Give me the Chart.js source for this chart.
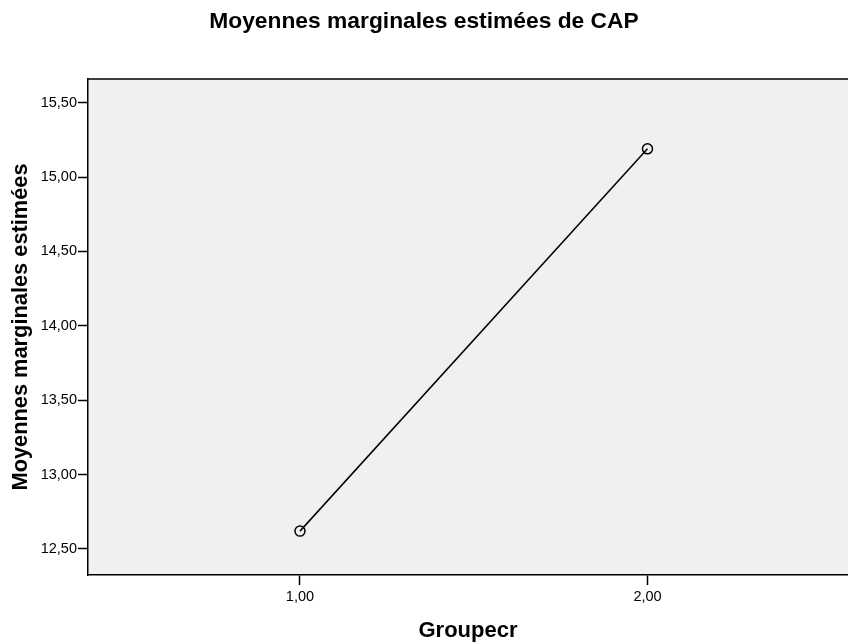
<!DOCTYPE html>
<html>
<head>
<meta charset="utf-8">
<script src="https://cdn.jsdelivr.net/npm/chart.js@4/dist/chart.umd.min.js"></script>
<style>
  body { margin: 0; background: #fff; }
  #chart { display: block; }
</style>
</head>
<body>
<canvas id="chart" width="848" height="644"></canvas>
<script>
// Data
const groups = [1, 2];
const means = [12.62, 15.19];
const xTicks = [1, 2];
const yTicks = [12.5, 13, 13.5, 14, 14.5, 15, 15.5];

const fontFamily = "'Liberation Sans', Arial, sans-serif";

// format like SPSS: 2 decimals with a comma
function fmt(v) {
  return v.toFixed(2).replace(".", ",");
}

// grey plot background and the top frame line
const plotFrame = {
  id: "plotFrame",
  beforeDraw(chart) {
    const { ctx, chartArea } = chart;
    ctx.save();
    ctx.fillStyle = "#f0f0f0";
    ctx.fillRect(chartArea.left, chartArea.top, chartArea.right - chartArea.left, chartArea.bottom - chartArea.top);
    ctx.strokeStyle = "#000";
    ctx.lineWidth = 1.5;
    ctx.beginPath();
    ctx.moveTo(chartArea.left, chartArea.top);
    ctx.lineTo(chartArea.right, chartArea.top);
    ctx.stroke();
    ctx.restore();
  },
};

const ctx = document.getElementById("chart").getContext("2d");
new Chart(ctx, {
  type: "line",
  data: {
    datasets: [
      {
        data: groups.map((g, i) => ({ x: g, y: means[i] })),
        borderColor: "#000",
        borderWidth: 1.5,
        backgroundColor: "rgba(0,0,0,0)",
        pointRadius: 5,
        pointBorderWidth: 1.5,
        pointBorderColor: "#000",
        pointBackgroundColor: "rgba(0,0,0,0)",
        tension: 0,
        fill: false,
      },
    ],
  },
  options: {
    responsive: false,
    animation: false,
    layout: { autoPadding: false, padding: 0 },
    plugins: {
      legend: { display: false },
      tooltip: { enabled: false },
      title: {
        display: true,
        text: "Moyennes marginales estimées de CAP",
        color: "#000",
        font: { family: fontFamily, size: 22.8, weight: "bold" },
        padding: { top: 8.3, bottom: 43.3 },
      },
    },
    scales: {
      x: {
        type: "linear",
        min: 0.39,
        max: 2.577,
        afterBuildTicks: (scale) => {
          scale.ticks = xTicks.map((v) => ({ value: v }));
        },
        afterFit: (scale) => {
          scale.height = 69;
        },
        ticks: {
          color: "#000",
          padding: 3,
          font: { family: fontFamily, size: 14.5 },
          callback: (v) => fmt(v),
        },
        grid: {
          drawOnChartArea: false,
          drawTicks: true,
          tickLength: 10,
          tickWidth: 1.5,
          tickColor: "#000",
        },
        border: { display: true, color: "#000", width: 1.5 },
        title: {
          display: true,
          text: "Groupecr",
          color: "#000",
          font: { family: fontFamily, size: 22, weight: "bold" },
          padding: { top: 0, bottom: 0 },
        },
      },
      y: {
        type: "linear",
        min: 12.325,
        max: 15.66,
        afterBuildTicks: (scale) => {
          scale.ticks = yTicks.map((v) => ({ value: v }));
        },
        afterFit: (scale) => {
          scale.width = 88;
        },
        ticks: {
          color: "#000",
          padding: 1,
          font: { family: fontFamily, size: 14.5 },
          callback: (v) => fmt(v),
        },
        grid: {
          drawOnChartArea: false,
          drawTicks: true,
          tickLength: 10,
          tickWidth: 1.5,
          tickColor: "#000",
        },
        border: { display: true, color: "#000", width: 1.5 },
        title: {
          display: true,
          text: "Moyennes marginales estimées",
          color: "#000",
          font: { family: fontFamily, size: 21.8, weight: "bold" },
          padding: { top: 8, bottom: 0 },
        },
      },
    },
  },
  plugins: [plotFrame],
});
</script>
</body>
</html>
